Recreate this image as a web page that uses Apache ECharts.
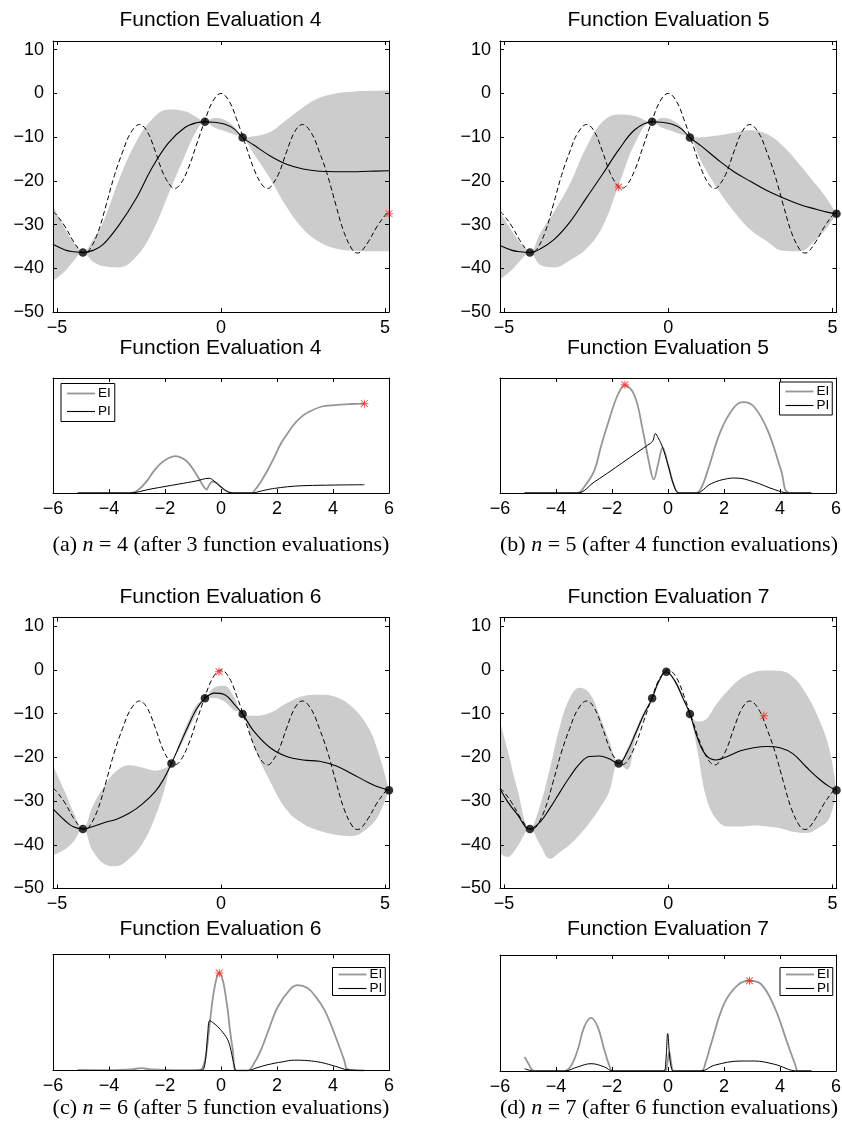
<!DOCTYPE html>
<html>
<head>
<meta charset="utf-8">
<script src="https://cdn.jsdelivr.net/npm/echarts@6/dist/echarts.min.js"></script>
<style>
  html, body { margin: 0; padding: 0; background: #ffffff; }
  #chart { width: 842px; height: 1128px; }
</style>
</head>
<body>
<div id="chart"></div>
<script>
// ---------- tick labels ----------
const mainXTicks = [-5, 0, 5];
const mainYTicks = [-50, -40, -30, -20, -10, 0, 10];
const acqXTicks = [-6, -4, -2, 0, 2, 4, 6];

// ---------- objective function (dashed) ----------
const trueX = [-5.12, -5.0, -4.75, -4.5, -4.25, -4.15, -4.0, -3.75, -3.5, -3.25, -3.0, -2.75, -2.48, -2.25, -2.0, -1.75, -1.5, -1.42, -1.25, -1.0, -0.75, -0.5, -0.25, 0, 0.25, 0.5, 0.75, 1.0, 1.25, 1.42, 1.5, 1.75, 2.0, 2.25, 2.48, 2.75, 3.0, 3.25, 3.5, 3.75, 4.0, 4.15, 4.25, 4.5, 4.75, 5.0, 5.12];
const trueY = [-27.0, -27.9, -30.5, -33.8, -36.3, -36.5, -35.7, -31.8, -25.5, -18.8, -13.4, -9.0, -7.1, -8.7, -13.3, -18.5, -21.5, -21.7, -20.9, -17.2, -11.8, -6.4, -1.8, 0, -1.8, -6.4, -11.8, -17.2, -20.9, -21.7, -21.5, -18.5, -13.3, -8.7, -7.1, -9.0, -13.4, -18.8, -25.5, -31.8, -35.7, -36.5, -36.3, -33.8, -30.5, -27.9, -27.0];

// ---------- GP posterior, evaluation 4 ----------
const gp4X = [-5.12, -4.75, -4.5, -4.21, -3.9, -3.6, -3.1, -2.6, -2.1, -1.6, -1.1, -0.75, -0.49, -0.2, 0.1, 0.4, 0.66, 1.0, 1.5, 2.0, 2.5, 3.0, 3.5, 4.0, 4.5, 5.12];
const gp4Mean = [-34.5, -35.8, -36.2, -36.4, -35.9, -34.6, -30.0, -24.2, -17.0, -11.3, -7.8, -6.7, -6.5, -6.6, -7.0, -8.1, -10.1, -11.8, -14.3, -16.2, -17.3, -17.8, -17.9, -17.9, -17.8, -17.7];
const gp4Upper = [-25.7, -31.0, -34.0, -36.4, -33.4, -29.6, -19.6, -11.3, -5.9, -3.7, -4.1, -5.4, -6.5, -5.6, -6.0, -7.6, -10.1, -9.8, -8.8, -6.0, -3.2, -1.0, 0.0, 0.4, 0.6, 0.7];
const gp4Lower = [-42.9, -40.6, -38.4, -36.4, -38.5, -39.5, -39.8, -37.5, -31.8, -23.0, -14.2, -8.6, -6.5, -7.8, -8.6, -9.4, -10.1, -13.8, -19.5, -26.0, -31.0, -34.0, -35.5, -36.0, -36.1, -36.1];
const obs4X = [-4.21, -0.49, 0.66];
const obs4Y = [-36.4, -6.5, -10.1];
const next4 = [5.12, -27.5];

// ---------- GP posterior, evaluation 5 ----------
const gp5X = [-5.12, -4.75, -4.5, -4.21, -3.9, -3.47, -3.0, -2.5, -2.0, -1.5, -1.0, -0.49, -0.2, 0.1, 0.4, 0.66, 1.0, 1.5, 2.0, 2.5, 3.0, 3.5, 4.0, 4.5, 4.8, 5.12];
const gp5Mean = [-34.8, -35.9, -36.2, -36.4, -35.6, -33.4, -29.5, -24.0, -18.5, -12.8, -8.2, -6.5, -6.6, -7.0, -8.1, -10.1, -12.0, -15.1, -17.9, -20.1, -22.2, -23.9, -25.4, -26.5, -27.1, -27.5];
const gp5Upper = [-27.2, -31.5, -34.2, -36.4, -32.0, -27.0, -20.8, -12.4, -6.5, -4.8, -5.2, -6.5, -5.6, -6.0, -7.6, -10.1, -10.0, -9.6, -9.0, -8.4, -9.3, -12.1, -16.3, -20.9, -23.8, -27.5];
const gp5Lower = [-42.6, -40.3, -38.2, -36.4, -39.2, -39.8, -38.2, -35.6, -30.5, -20.8, -11.2, -6.5, -7.8, -8.6, -9.4, -10.1, -15.5, -21.8, -27.0, -31.2, -33.8, -36.0, -36.1, -33.4, -31.0, -27.5];
const obs5X = [-4.21, -0.49, 0.66, 5.12];
const obs5Y = [-36.4, -6.5, -10.1, -27.5];
const next5 = [-1.51, -21.4];

// ---------- GP posterior, evaluation 6 ----------
const gp6X = [-5.12, -4.75, -4.5, -4.21, -3.9, -3.5, -3.2, -2.8, -2.4, -2.0, -1.75, -1.51, -1.25, -1.0, -0.75, -0.49, -0.2, 0.1, 0.4, 0.66, 1.0, 1.5, 2.0, 2.5, 3.0, 3.5, 4.0, 4.5, 4.8, 5.12];
const gp6Mean = [-31.8, -34.5, -35.9, -36.4, -35.8, -34.8, -34.2, -32.8, -30.7, -27.8, -25.0, -21.4, -17.0, -12.8, -9.0, -6.5, -5.3, -5.6, -7.8, -10.1, -14.0, -17.8, -19.8, -20.6, -20.9, -21.9, -23.8, -25.8, -26.8, -27.5];
const gp6Upper = [-21.8, -28.0, -32.5, -36.4, -31.0, -26.0, -23.2, -21.8, -22.3, -23.0, -22.6, -21.4, -16.3, -11.8, -8.0, -6.5, -4.0, -3.6, -6.3, -10.1, -10.5, -9.8, -7.6, -6.0, -5.7, -6.2, -8.5, -13.3, -19.0, -27.5];
const gp6Lower = [-42.4, -41.0, -39.3, -36.4, -41.5, -44.6, -44.9, -43.2, -39.8, -33.5, -28.0, -21.4, -17.8, -13.8, -10.0, -6.5, -6.4, -7.2, -9.2, -10.1, -17.5, -25.5, -32.0, -35.2, -36.8, -37.7, -38.0, -36.0, -33.3, -27.5];
const obs6X = [-4.21, -1.51, -0.49, 0.66, 5.12];
const obs6Y = [-36.4, -21.4, -6.5, -10.1, -27.5];
const next6 = [-0.06, -0.4];

// ---------- GP posterior, evaluation 7 ----------
const gp7X = [-5.12, -4.9, -4.6, -4.21, -3.9, -3.6, -3.3, -3.0, -2.7, -2.4, -2.1, -1.8, -1.51, -1.25, -1.0, -0.75, -0.49, -0.3, -0.06, 0.2, 0.45, 0.66, 0.9, 1.15, 1.45, 1.8, 2.2, 2.6, 3.0, 3.4, 3.8, 4.2, 4.6, 4.9, 5.12];
const gp7Mean = [-27.2, -30.0, -33.0, -36.4, -34.8, -31.6, -28.0, -24.5, -21.5, -19.8, -19.7, -20.3, -21.4, -18.8, -14.6, -10.3, -6.5, -2.8, -0.4, -2.5, -6.5, -10.1, -15.8, -19.5, -20.6, -19.8, -18.5, -17.8, -17.5, -17.8, -19.2, -22.2, -25.0, -26.7, -27.5];
const gp7Upper = [-11.8, -18.0, -27.0, -36.4, -31.0, -22.5, -13.0, -6.5, -4.1, -5.3, -10.2, -16.1, -21.4, -18.0, -13.8, -9.6, -6.5, -2.3, -0.4, -2.1, -6.0, -10.1, -11.8, -11.3, -8.0, -4.8, -2.0, -0.5, -0.1, -0.2, -1.6, -5.5, -11.5, -18.0, -27.5];
const gp7Lower = [-42.0, -42.8, -40.5, -36.4, -40.0, -43.2, -41.7, -40.0, -37.7, -35.0, -31.8, -27.9, -21.4, -22.8, -15.8, -11.0, -6.5, -3.3, -0.4, -2.9, -7.0, -10.1, -19.0, -29.0, -34.0, -35.8, -35.8, -35.6, -35.8, -36.2, -37.0, -37.3, -36.0, -34.0, -27.5];
const obs7X = [-4.21, -1.51, -0.49, -0.06, 0.66, 5.12];
const obs7Y = [-36.4, -21.4, -6.5, -0.4, -10.1, -27.5];
const next7 = [2.91, -10.5];

// ---------- acquisition functions (relative scale 0..1) ----------
const ei4X = [-5.12, -3.3, -3.1, -2.85, -2.63, -2.4, -2.16, -1.9, -1.62, -1.4, -1.2, -0.95, -0.72, -0.6, -0.52, -0.42, -0.3, -0.15, 0, 0.2, 0.41, 1.1, 1.19, 1.4, 1.67, 1.9, 2.14, 2.38, 2.62, 2.86, 3.1, 3.57, 4.05, 4.64, 5.12];
const ei4 = [0, 0, 0.005, 0.05, 0.11, 0.19, 0.255, 0.30, 0.32, 0.305, 0.27, 0.19, 0.096, 0.05, 0.03, 0.07, 0.1, 0.085, 0.052, 0.015, 0, 0, 0.02, 0.09, 0.2, 0.31, 0.43, 0.52, 0.6, 0.66, 0.70, 0.75, 0.765, 0.774, 0.777];
const pi4X = [-5.12, -3.3, -2.5, -1.5, -0.9, -0.42, -0.25, 0, 0.24, 0.41, 1.1, 1.4, 1.67, 2.0, 2.5, 3.0, 4.0, 5.12];
const pi4 = [0, 0, 0.035, 0.078, 0.104, 0.128, 0.104, 0.052, 0.012, 0, 0, 0.015, 0.03, 0.043, 0.057, 0.064, 0.069, 0.072];
const star4 = [5.12, 0.777];

const ei5X = [-5.12, -3.25, -3.0, -2.63, -2.4, -2.15, -1.8, -1.54, -1.2, -0.9, -0.67, -0.51, -0.35, -0.19, -0.01, 0.23, 0.4, 1.0, 1.2, 1.42, 1.89, 2.37, 2.7, 3.08, 3.56, 4.04, 4.33, 5.12];
const ei5 = [0, 0, 0.05, 0.197, 0.4, 0.6, 0.85, 0.936, 0.85, 0.545, 0.255, 0.119, 0.255, 0.394, 0.255, 0.052, 0, 0, 0.05, 0.197, 0.545, 0.748, 0.79, 0.748, 0.545, 0.197, 0, 0];
const pi5X = [-5.12, -3.25, -2.63, -2.0, -1.5, -1.0, -0.73, -0.55, -0.45, -0.35, -0.19, -0.01, 0.23, 0.4, 1.0, 1.54, 2.13, 2.43, 3.08, 3.8, 4.33, 5.12];
const pi5 = [0, 0, 0.096, 0.2, 0.285, 0.37, 0.415, 0.45, 0.516, 0.48, 0.394, 0.255, 0.052, 0, 0, 0.081, 0.125, 0.13, 0.096, 0.03, 0, 0];
const star5 = [-1.54, 0.942];

const ei6X = [-5.12, -4.0, -3.2, -2.86, -2.5, -1.5, -0.75, -0.66, -0.57, -0.48, -0.39, -0.3, -0.21, -0.12, -0.06, 0.06, 0.15, 0.24, 0.33, 0.42, 0.54, 0.95, 1.2, 1.43, 1.73, 2.03, 2.5, 2.74, 3.1, 3.4, 3.7, 3.95, 4.18, 4.4, 4.53, 5.12];
const ei6 = [0.005, 0.003, 0.01, 0.02, 0.01, 0.003, 0.005, 0.02, 0.09, 0.235, 0.43, 0.61, 0.74, 0.825, 0.837, 0.78, 0.67, 0.52, 0.33, 0.178, 0, 0, 0.07, 0.178, 0.37, 0.55, 0.708, 0.736, 0.708, 0.63, 0.52, 0.38, 0.235, 0.09, 0.01, 0];
const pi6X = [-5.12, -1.0, -0.66, -0.6, -0.54, -0.48, -0.4, -0.3, -0.12, 0.06, 0.24, 0.33, 0.42, 0.48, 0.54, 0.95, 1.3, 1.67, 2.2, 2.63, 3.1, 3.58, 4.1, 4.53, 5.12];
const pi6 = [0, 0, 0.005, 0.03, 0.12, 0.3, 0.43, 0.415, 0.378, 0.33, 0.264, 0.2, 0.1, 0.04, 0, 0, 0.025, 0.05, 0.075, 0.089, 0.085, 0.069, 0.035, 0.006, 0];
const star6 = [-0.06, 0.84];

const ei7X = [-5.12, -5.0, -4.77, -3.7, -3.45, -3.23, -2.99, -2.75, -2.51, -2.27, -2.1, -1.98, -0.1, -0.03, 0.05, 0.12, 0.2, 1.18, 1.35, 1.54, 2.01, 2.49, 2.9, 3.32, 3.8, 4.27, 4.57, 4.63, 5.12];
const ei7 = [0.121, 0.07, 0, 0, 0.05, 0.179, 0.38, 0.458, 0.38, 0.179, 0.05, 0, 0, 0.06, 0.164, 0.06, 0, 0, 0.08, 0.236, 0.582, 0.74, 0.778, 0.75, 0.553, 0.236, 0.035, 0, 0];
const pi7X = [-5.12, -4.77, -3.7, -3.23, -2.75, -2.27, -1.98, -0.15, -0.08, -0.01, 0.06, 0.13, 0.2, 1.18, 1.65, 2.61, 3.08, 3.8, 4.63, 5.12];
const pi7 = [0.02, 0, 0, 0.035, 0.063, 0.035, 0, 0, 0.08, 0.323, 0.12, 0.02, 0, 0, 0.049, 0.086, 0.086, 0.058, 0, 0];
const star7 = [2.91, 0.778];

// ---------- text ----------
const mainTitles = ['Function Evaluation 4', 'Function Evaluation 5', 'Function Evaluation 6', 'Function Evaluation 7'];
const captionTags = ['(a)', '(b)', '(c)', '(d)'];
const captionN = ['4', '5', '6', '7'];
const captionEvals = ['3', '4', '5', '6'];
const legendNames = ['EI', 'PI'];

// ---------- layout & style ----------
const FONT = '"Liberation Sans", Arial, Helvetica, sans-serif';
const SERIF = '"Liberation Serif", "Times New Roman", Times, serif';
const BAND = '#cccccc';
const EI_COLOR = '#969696';
const RED = '#ff2020';
const STAR = 'path://M4.4,0H5.6V10H4.4Z M0,4.4H10V5.6H0Z M1.2,0.35L9.65,8.8L8.8,9.65L0.35,1.2Z M8.8,0.35L9.65,1.2L1.2,9.65L0.35,8.8Z';
const ICON_THICK = 'path://M0,0H28V1.8H0Z';
const ICON_THIN = 'path://M0,0H28V1.1H0Z';
const SMOOTH = 0.4;

const mainBoxes = [
  { left: 53, top: 41, width: 336, height: 271 },
  { left: 500, top: 41, width: 336.5, height: 271 },
  { left: 53, top: 617.5, width: 336, height: 271 },
  { left: 500, top: 617.5, width: 336.5, height: 271 }
];
const acqBoxes = [
  { left: 53, top: 378, width: 336, height: 115 },
  { left: 500, top: 378, width: 336, height: 115 },
  { left: 53, top: 954.5, width: 336, height: 116 },
  { left: 500, top: 955, width: 336, height: 116 }
];
const mainTitlePos = [[220.5, 20], [668.5, 20], [220.5, 597], [668.5, 597]];
const acqTitlePos = [[220.5, 348.5], [668, 348.5], [220.5, 929], [668, 929]];
const captionPos = [[221, 545], [669, 545], [221, 1108], [669, 1108]];
const legendBoxes = [
  { left: 61, top: 383.5, lineHeight: 13, itemGap: 4, padding: [3, 4, 3, 6] },
  { left: 779.5, top: 382, lineHeight: 12, itemGap: 0, padding: [2.5, 3, 2.5, 6] },
  { left: 332.5, top: 967.5, lineHeight: 11, itemGap: 0, padding: [0, 3, 0, 6] },
  { left: 780, top: 967.5, lineHeight: 11, itemGap: 0, padding: [0, 3, 0, 6] }
];

const gpSets = [
  { x: gp4X, mean: gp4Mean, up: gp4Upper, lo: gp4Lower, ox: obs4X, oy: obs4Y, next: next4 },
  { x: gp5X, mean: gp5Mean, up: gp5Upper, lo: gp5Lower, ox: obs5X, oy: obs5Y, next: next5 },
  { x: gp6X, mean: gp6Mean, up: gp6Upper, lo: gp6Lower, ox: obs6X, oy: obs6Y, next: next6 },
  { x: gp7X, mean: gp7Mean, up: gp7Upper, lo: gp7Lower, ox: obs7X, oy: obs7Y, next: next7 }
];
const acqSets = [
  { eiX: ei4X, ei: ei4, piX: pi4X, pi: pi4, star: star4 },
  { eiX: ei5X, ei: ei5, piX: pi5X, pi: pi5, star: star5 },
  { eiX: ei6X, ei: ei6, piX: pi6X, pi: pi6, star: star6 },
  { eiX: ei7X, ei: ei7, piX: pi7X, pi: pi7, star: star7 }
];

const zip = (xs, ys) => xs.map((x, i) => [x, ys[i]]);
const minus = v => (v < 0 ? '\u2212' + Math.abs(v) : String(v));

const grids = [], xAxes = [], yAxes = [], series = [], graphics = [], legends = [];

function edgeAxis(gridIndex, position, extra) {
  return Object.assign({
    gridIndex, type: 'value', position, z: 10,
    axisLine: { show: true, onZero: false, lineStyle: { color: '#000', width: 1 } },
    splitLine: { show: false },
    axisTick: { show: false },
    axisLabel: { show: false }
  }, extra);
}
function ticks(values) {
  return { show: true, inside: true, length: 4, lineStyle: { color: '#000', width: 1 }, customValues: values };
}
function labels(values, margin) {
  return { show: true, customValues: values, formatter: minus, color: '#000', fontFamily: FONT, fontSize: 18, margin };
}

// main GP panels: the confidence band is a grey area under the upper bound,
// with a white area under the lower bound painted over it
gpSets.forEach((d, k) => {
  const g = grids.length;
  grids.push(Object.assign({ containLabel: false, outerBoundsMode: 'none', show: false }, mainBoxes[k]));
  const xi = xAxes.length, yi = yAxes.length;
  xAxes.push(edgeAxis(g, 'bottom', { min: -5.12, max: 5.12, axisTick: ticks(mainXTicks), axisLabel: labels(mainXTicks, 7) }));
  xAxes.push(edgeAxis(g, 'top', { min: -5.12, max: 5.12, axisTick: ticks(mainXTicks) }));
  yAxes.push(edgeAxis(g, 'left', { min: -50, max: 12, axisTick: ticks(mainYTicks), axisLabel: labels(mainYTicks, 9) }));
  yAxes.push(edgeAxis(g, 'right', { min: -50, max: 12, axisTick: ticks(mainYTicks) }));
  const common = { xAxisIndex: xi, yAxisIndex: yi, silent: true, animation: false };
  series.push(Object.assign({
    type: 'line', name: 'upper' + k, data: zip(d.x, d.up), symbol: 'none', smooth: SMOOTH,
    lineStyle: { width: 0, opacity: 0 }, areaStyle: { color: BAND, opacity: 1, origin: 'start' }, z: 1
  }, common));
  series.push(Object.assign({
    type: 'line', name: 'lower' + k, data: zip(d.x, d.lo), symbol: 'none', smooth: SMOOTH,
    lineStyle: { width: 0, opacity: 0 }, areaStyle: { color: '#ffffff', opacity: 1, origin: 'start' }, z: 1.5
  }, common));
  series.push(Object.assign({
    type: 'line', name: 'objective' + k, data: zip(trueX, trueY), symbol: 'none', smooth: SMOOTH,
    lineStyle: { color: '#000', width: 1, type: [5, 3] }, z: 2
  }, common));
  series.push(Object.assign({
    type: 'line', name: 'mean' + k, data: zip(d.x, d.mean), symbol: 'none', smooth: SMOOTH,
    lineStyle: { color: '#000', width: 1.1 }, z: 3
  }, common));
  series.push(Object.assign({
    type: 'scatter', name: 'obs' + k, data: zip(d.ox, d.oy), symbol: 'circle', symbolSize: 8.5,
    itemStyle: { color: '#000' }, z: 4, clip: false
  }, common));
  series.push(Object.assign({
    type: 'scatter', name: 'next' + k, data: [d.next], symbol: STAR, symbolSize: 8,
    itemStyle: { color: RED }, z: 5, clip: false
  }, common));
  graphics.push({
    type: 'text', x: mainTitlePos[k][0], y: mainTitlePos[k][1], silent: true,
    style: { text: mainTitles[k], fontSize: 21, fontFamily: FONT, fill: '#000', align: 'center', verticalAlign: 'middle', textAlign: 'center', textVerticalAlign: 'middle' }
  });
});

// acquisition panels
acqSets.forEach((d, k) => {
  const g = grids.length;
  grids.push(Object.assign({ containLabel: false, outerBoundsMode: 'none', show: false }, acqBoxes[k]));
  const xi = xAxes.length, yi = yAxes.length;
  xAxes.push(edgeAxis(g, 'bottom', { min: -6, max: 6, axisTick: ticks(acqXTicks), axisLabel: labels(acqXTicks, 7) }));
  xAxes.push(edgeAxis(g, 'top', { min: -6, max: 6, axisTick: ticks(acqXTicks) }));
  yAxes.push(edgeAxis(g, 'left', { min: 0, max: 1 }));
  yAxes.push(edgeAxis(g, 'right', { min: 0, max: 1 }));
  const common = { xAxisIndex: xi, yAxisIndex: yi, silent: true, animation: false };
  series.push(Object.assign({
    type: 'line', name: legendNames[0], data: zip(d.eiX, d.ei), symbol: 'none', smooth: SMOOTH,
    lineStyle: { color: EI_COLOR, width: 1.8 }, itemStyle: { color: EI_COLOR }, z: 2
  }, common));
  series.push(Object.assign({
    type: 'line', name: legendNames[1], data: zip(d.piX, d.pi), symbol: 'none', smooth: SMOOTH,
    lineStyle: { color: '#000', width: 1 }, itemStyle: { color: '#000' }, z: 3
  }, common));
  series.push(Object.assign({
    type: 'scatter', name: 'choice' + k, data: [d.star], symbol: STAR, symbolSize: 8,
    itemStyle: { color: RED }, z: 5, clip: false
  }, common));
  const lb = legendBoxes[k];
  legends.push({
    data: [{ name: legendNames[0], icon: ICON_THICK }, { name: legendNames[1], icon: ICON_THIN }],
    orient: 'vertical', left: lb.left, top: lb.top, align: 'left',
    itemWidth: 28, itemHeight: 8, itemGap: lb.itemGap, padding: lb.padding,
    borderColor: '#000', borderWidth: 1, borderRadius: 0, backgroundColor: '#fff',
    selectedMode: false, z: 20,
    textStyle: { fontSize: 13.5, lineHeight: lb.lineHeight, fontFamily: FONT, color: '#000', padding: [0, 0, 0, -2] }
  });
  graphics.push({
    type: 'text', x: acqTitlePos[k][0], y: acqTitlePos[k][1], silent: true,
    style: { text: mainTitles[k], fontSize: 21, fontFamily: FONT, fill: '#000', align: 'center', verticalAlign: 'middle', textAlign: 'center', textVerticalAlign: 'middle' }
  });
  graphics.push({
    type: 'text', x: captionPos[k][0], y: captionPos[k][1], silent: true,
    style: {
      text: captionTags[k] + ' {i|n} = ' + captionN[k] + ' (after ' + captionEvals[k] + ' function evaluations)',
      fontSize: 22, fontFamily: SERIF, fill: '#000',
      align: 'center', verticalAlign: 'middle', textAlign: 'center', textVerticalAlign: 'middle',
      rich: { i: { fontStyle: 'italic', fontSize: 22, fontFamily: SERIF, fill: '#000', color: '#000' } }
    }
  });
});

const chart = echarts.init(document.getElementById('chart'), null, { renderer: 'canvas', width: 842, height: 1128 });
chart.setOption({
  animation: false,
  backgroundColor: '#ffffff',
  grid: grids,
  xAxis: xAxes,
  yAxis: yAxes,
  legend: legends,
  series: series,
  graphic: { elements: graphics }
});
</script>
</body>
</html>
